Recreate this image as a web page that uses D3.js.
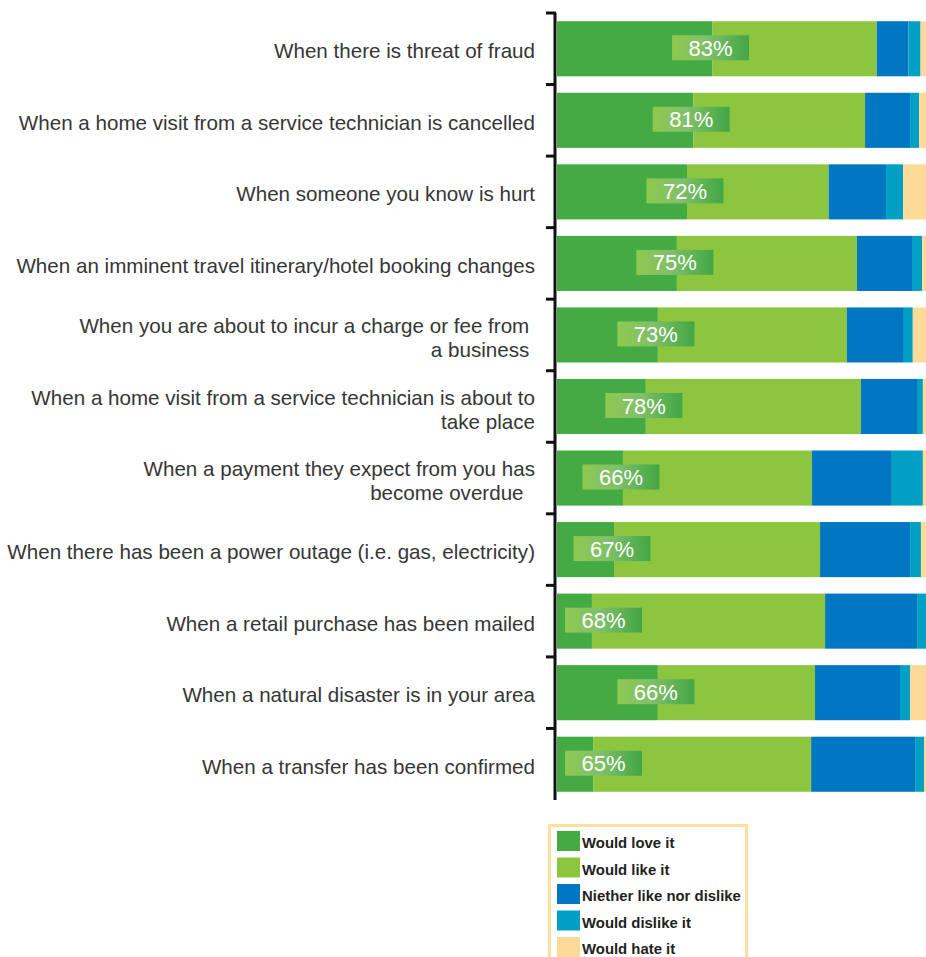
<!DOCTYPE html>
<meta charset="utf-8">
<style>
  body { margin: 0; background: #fff; }
  svg { display: block; }
</style>
<body>
<div id="chart"></div>
<script src="https://d3js.org/d3.v7.min.js"></script>
<script>

// chart values
var categories = [
  ["When there is threat of fraud"],
  ["When a home visit from a service technician is cancelled"],
  ["When someone you know is hurt"],
  ["When an imminent travel itinerary/hotel booking changes"],
  ["When you are about to incur a charge or fee from ", "a business "],
  ["When a home visit from a service technician is about to", "take place"],
  ["When a payment they expect from you has", "become overdue  "],
  ["When there has been a power outage (i.e. gas, electricity)"],
  ["When a retail purchase has been mailed"],
  ["When a natural disaster is in your area"],
  ["When a transfer has been confirmed"]
];
var seriesNames = ["Would love it", "Would like it", "Niether like nor dislike", "Would dislike it", "Would hate it"];
var loveIt    = [40.1, 35.1, 33.5, 30.9, 26.0, 22.9, 17.0, 14.7,  9.0, 26.0,  9.3];
var likeIt    = [42.3, 44.3, 36.5, 46.4, 48.7, 55.4, 48.7, 53.1, 60.1, 40.5, 56.2];
var neither   = [ 8.2, 11.6, 14.8, 14.2, 14.7, 14.7, 20.6, 23.2, 23.7, 21.9, 26.8];
var dislikeIt = [ 3.1,  2.3,  4.4,  2.6,  2.3,  1.3,  8.0,  2.8,  4.5,  2.6,  2.3];
var hateIt    = [ 6.3,  6.7, 10.8,  5.9,  8.3,  5.7,  5.7,  6.2,  2.7,  9.0,  5.4];
var badgeLabels = ["83%", "81%", "72%", "75%", "73%", "78%", "66%", "67%", "68%", "66%", "65%"];

var colors = ["#44ab44", "#8cc63f", "#0077c0", "#00a0c5", "#fdda97"];

var width = 926, height = 957;

var svg = d3.select("#chart")
  .append("svg")
    .attr("width", width)
    .attr("height", height);

var defs = svg.append("defs");
var grad = defs.append("linearGradient").attr("id", "badge");
grad.append("stop").attr("offset", "0%").attr("stop-color", "#8fc850");
grad.append("stop").attr("offset", "45%").attr("stop-color", "#80c06a");
grad.append("stop").attr("offset", "100%").attr("stop-color", "#42a645");

var table = categories.map(function(c, i) {
  return {
    idx: i,
    s0: loveIt[i], s1: likeIt[i], s2: neither[i], s3: dislikeIt[i], s4: hateIt[i]
  };
});
var keys = ["s0", "s1", "s2", "s3", "s4"];
var stacked = d3.stack().keys(keys)(table);

// 100% runs past the right edge of the picture, as in the original
var x = d3.scaleLinear()
  .domain([0, 100])
  .range([557, 945]);

var y = d3.scaleBand()
  .domain(d3.range(categories.length))
  .range([13, 800])
  .paddingInner(0.23)
  .paddingOuter(0.115);

// bars
svg.append("g")
  .selectAll("g")
  .data(stacked)
  .enter()
  .append("g")
    .attr("fill", function(d, i) { return colors[i]; })
  .selectAll("rect")
  .data(function(d) { return d; })
  .enter()
  .append("rect")
    .attr("x", function(d) { return x(d[0]); })
    .attr("y", function(d) { return y(d.data.idx); })
    .attr("width", function(d) { return x(d[1]) - x(d[0]); })
    .attr("height", y.bandwidth());

// axis line + ticks between bands
var axis = svg.append("g");
axis.append("line")
  .attr("x1", 555).attr("x2", 555)
  .attr("y1", y.range()[0]).attr("y2", y.range()[1])
  .attr("stroke", "#111")
  .attr("stroke-width", 3);
axis.selectAll(".tick")
  .data(d3.range(categories.length))
  .enter()
  .append("line")
    .attr("class", "tick")
    .attr("x1", 546).attr("x2", 556)
    .attr("y1", function(d) { return y(d) - y.step() * y.paddingInner() / 2; })
    .attr("y2", function(d) { return y(d) - y.step() * y.paddingInner() / 2; })
    .attr("stroke", "#111")
    .attr("stroke-width", 3);

// category labels
var labels = svg.append("g")
  .style("font-family", "'Liberation Sans', Arial, sans-serif")
  .style("font-size", "20.6px")
  .attr("fill", "#363636")
  .attr("text-anchor", "end");
categories.forEach(function(lines, i) {
  var cy = y(i) + y.bandwidth() / 2;
  var t = labels.append("text")
    .attr("x", 535)
    .attr("y", cy + 9.5 - (lines.length - 1) * 11.5)
    .style("white-space", "pre");
  lines.forEach(function(line, j) {
    t.append("tspan")
      .attr("x", 535)
      .attr("dy", j === 0 ? 0 : 24)
      .text(line);
  });
});

// percentage badges
var badges = svg.append("g");
badgeLabels.forEach(function(lbl, i) {
  var cx = Math.max(x(loveIt[i]) - 2, 565 + 38.5);
  var cy = y(i) + y.bandwidth() / 2 - 1;
  badges.append("rect")
    .attr("x", cx - 38.5)
    .attr("y", cy - 12.5)
    .attr("width", 77)
    .attr("height", 25)
    .attr("fill", "url(#badge)");
  badges.append("text")
    .attr("x", cx)
    .attr("y", cy + 8)
    .attr("text-anchor", "middle")
    .attr("fill", "#fff")
    .style("font-family", "'Liberation Sans', Arial, sans-serif")
    .style("font-size", "22px")
    .text(lbl);
});

// legend
var legend = svg.append("g");
legend.append("rect")
  .attr("x", 549.5).attr("y", 825.5)
  .attr("width", 197).attr("height", 150)
  .attr("fill", "#fff")
  .attr("stroke", "#fde0a0")
  .attr("stroke-width", 3);
seriesNames.forEach(function(name, i) {
  legend.append("rect")
    .attr("x", 557)
    .attr("y", 831 + i * 26.5)
    .attr("width", 23)
    .attr("height", 20)
    .attr("fill", colors[i]);
  legend.append("text")
    .attr("x", 582)
    .attr("y", 848 + i * 26.5)
    .attr("fill", "#231f20")
    .style("font-family", "'Liberation Sans', Arial, sans-serif")
    .style("font-size", "14.9px")
    .style("font-weight", "bold")
    .text(name);
});

</script>
</body>
